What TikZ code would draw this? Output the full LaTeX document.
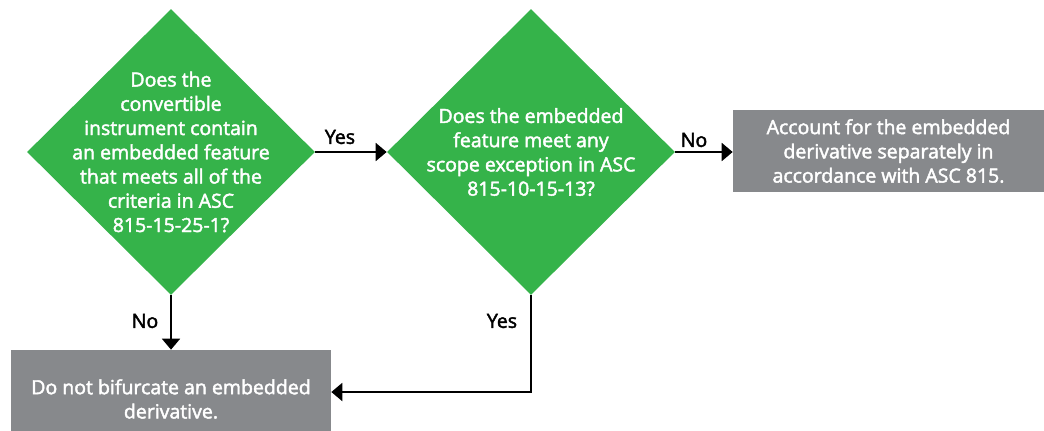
\documentclass[tikz,border=0pt]{standalone}
\usepackage{fontspec}
\setmainfont{Open Sans}[FakeBold=2.2]
\usetikzlibrary{shapes.geometric,arrows.meta}
\definecolor{qgreen}{HTML}{35B34A}
\definecolor{boxgrey}{HTML}{87898C}
\begin{document}
\begin{tikzpicture}[x=0.02cm,y=-0.02cm,
    every node/.style={font=\fontsize{11.1}{13.8}\selectfont},
    question/.style={diamond,fill=qgreen,text=white,align=center,inner sep=-0.4cm,minimum width=5.76cm,minimum height=5.72cm},
    outcome/.style={rectangle,fill=boxgrey,text=white,align=center,inner sep=0pt},
    flow/.style={line width=0.04cm,-{Triangle[length=0.22cm,width=0.36cm]}},
    answer/.style={text=black,inner sep=0pt}]
  \useasboundingbox (0,0) rectangle (1044,430);
  \node[question] (q1) at (171,152) {Does the\\convertible\\instrument contain\\an embedded feature\\that meets all of the\\criteria in ASC\\815-15-25-1?};
  \node[question] (q2) at (531,152) {Does the embedded\\feature meet any\\scope exception in ASC\\815-10-15-13?};
  \node[outcome,minimum width=6.22cm,minimum height=1.64cm] (acct) at (888.5,151) {Account for the embedded\\derivative separately in\\accordance with ASC 815.};
  \node[outcome,minimum width=6.4cm,minimum height=1.96cm] (done) at (171,399) {Do not bifurcate an embedded\\derivative.};
  \node[answer] (yes1) at (340,137) {Yes};
  \node[answer] (no1) at (145,321) {No};
  \node[answer] (yes2) at (502,321) {Yes};
  \node[answer] (no2) at (694,140) {No};
  \draw[flow] (q1.east) -- (q2.west);
  \draw[flow] (q2.east) -- (acct.west |- q2.east);
  \draw[flow] (q1.south) -- (done.north -| q1.south);
  \draw[flow] (q2.south) |- (done.east |- 0,392);
\end{tikzpicture}
\end{document}
